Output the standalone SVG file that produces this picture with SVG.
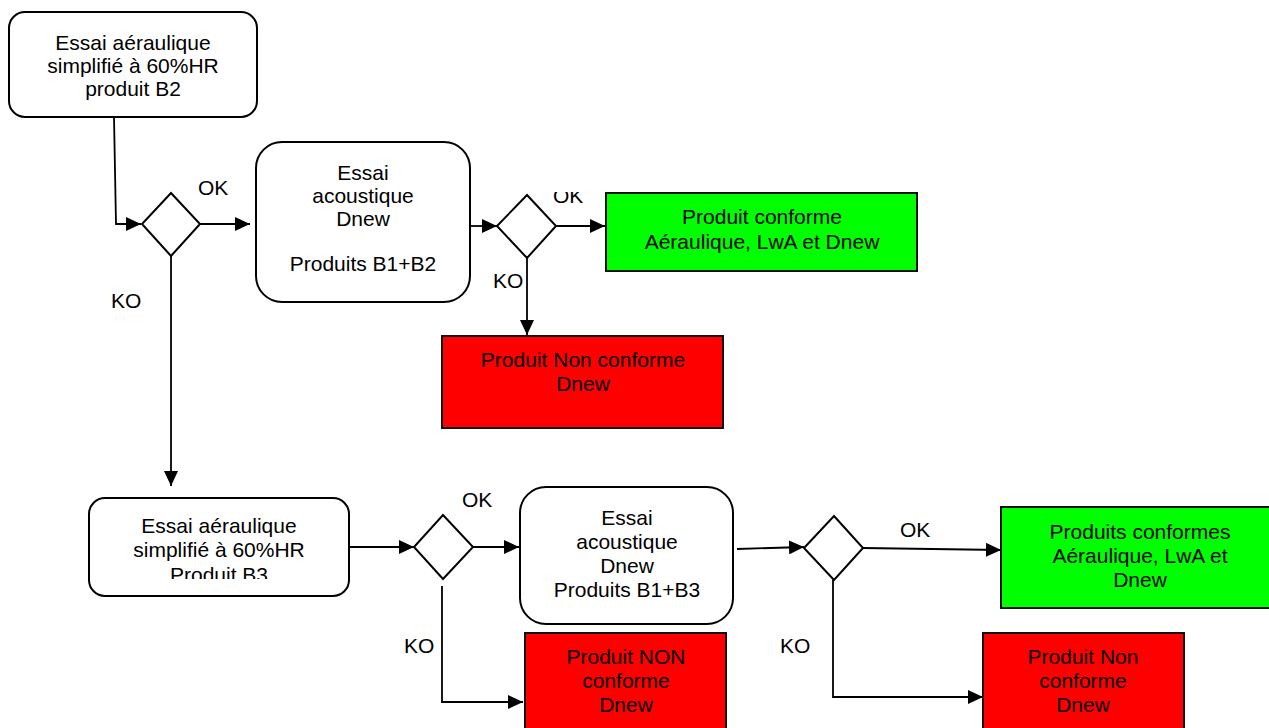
<svg xmlns="http://www.w3.org/2000/svg" width="1269" height="728" viewBox="0 0 1269 728">
<style>
text{font-family:"Liberation Sans",Arial,sans-serif;font-size:21px;fill:#000;text-anchor:middle}
.lbl{text-anchor:start}
.box{fill:#fff;stroke:#000;stroke-width:2}
.ok{fill:#00ff00;stroke:#111;stroke-width:2}
.ko{fill:#ff0000;stroke:#111;stroke-width:2}
.dia{fill:#fff;stroke:#000;stroke-width:2}
.con{fill:none;stroke:#000;stroke-width:1.8;marker-end:url(#arr)}
</style>
<defs>
<marker id="arr" markerUnits="userSpaceOnUse" markerWidth="16" markerHeight="14" refX="15" refY="7" orient="auto"><path d="M0,0 L15,7 L0,14 Z" fill="#000"/></marker>
<clipPath id="clipB3"><rect x="89" y="498" width="260" height="81"/></clipPath>
<clipPath id="clipOK"><rect x="540" y="192" width="60" height="20"/></clipPath>
</defs>
<rect width="1269" height="728" fill="#fff"/>

<g id="connectors">
<path class="con" d="M114,117 L116,224 L141,224"/>
<path class="con" d="M200,224 L250,224"/>
<path class="con" d="M171,256 L171,486"/>
<path class="con" d="M471,226 L497,226"/>
<path class="con" d="M556,226 L605,226"/>
<path class="con" d="M527,258 L527,335"/>
<path class="con" d="M349,547 L414,547"/>
<path class="con" d="M473,547 L519,547"/>
<path class="con" d="M442,586 L442,702 L523,702"/>
<path class="con" d="M737,549 L804,547"/>
<path class="con" d="M863,548 L1001,550"/>
<path class="con" d="M833,580 L833,697 L983,697"/>
<text class="lbl" x="198" y="195">OK</text>
<text class="lbl" x="111" y="308">KO</text>
<text class="lbl" x="553" y="203" clip-path="url(#clipOK)">OK</text>
<text class="lbl" x="493" y="288">KO</text>
<text class="lbl" x="462" y="507">OK</text>
<text class="lbl" x="404" y="653">KO</text>
<text class="lbl" x="900" y="537">OK</text>
<text class="lbl" x="780" y="653">KO</text>
</g>

<g id="box1">
<rect class="box" x="9" y="12" width="248" height="105" rx="16"/>
<text x="133" y="50">Essai aéraulique</text>
<text x="133" y="73">simplifié à 60%HR</text>
<text x="133" y="96">produit B2</text>
</g>

<g id="diamond1"><path class="dia" d="M171,193 L200,224 L171,256 L142,224 Z"/></g>

<g id="box2">
<rect class="box" x="256" y="142" width="214" height="160" rx="26"/>
<text x="363" y="180">Essai</text>
<text x="363" y="203">acoustique</text>
<text x="363" y="226">Dnew</text>
<text x="363" y="271">Produits B1+B2</text>
</g>

<g id="diamond2"><path class="dia" d="M527,195 L556,226 L527,258 L497,226 Z"/></g>

<g id="green1">
<rect class="ok" x="606" y="193" width="311" height="78"/>
<text x="762" y="224">Produit conforme</text>
<text x="762" y="249">Aéraulique, LwA et Dnew</text>
</g>

<g id="red1">
<rect class="ko" x="442" y="336" width="281" height="92"/>
<text x="583" y="367">Produit Non conforme</text>
<text x="583" y="391">Dnew</text>
</g>

<g id="box3">
<rect class="box" x="89" y="498" width="260" height="98" rx="16"/>
<text x="219" y="533">Essai aéraulique</text>
<text x="219" y="557">simplifié à 60%HR</text>
<text x="219" y="582" clip-path="url(#clipB3)">Produit B3</text>
</g>

<g id="diamond3"><path class="dia" d="M443,515 L473,547 L443,579 L414,547 Z"/></g>

<g id="box4">
<rect class="box" x="520" y="487" width="213" height="137" rx="26"/>
<text x="627" y="525">Essai</text>
<text x="627" y="549">acoustique</text>
<text x="627" y="573">Dnew</text>
<text x="627" y="597">Produits B1+B3</text>
</g>

<g id="red3">
<rect class="ko" x="525" y="633" width="201" height="100"/>
<text x="626" y="664">Produit NON</text>
<text x="626" y="688">conforme</text>
<text x="626" y="712">Dnew</text>
</g>

<g id="diamond4"><path class="dia" d="M834,516 L863,548 L834,580 L804,548 Z"/></g>

<g id="green2">
<rect class="ok" x="1001" y="507" width="272" height="101"/>
<text x="1140" y="539">Produits conformes</text>
<text x="1140" y="563">Aéraulique, LwA et</text>
<text x="1140" y="587">Dnew</text>
</g>

<g id="red4">
<rect class="ko" x="983" y="633" width="201" height="100"/>
<text x="1083" y="664">Produit Non</text>
<text x="1083" y="688">conforme</text>
<text x="1083" y="712">Dnew</text>
</g>
</svg>
